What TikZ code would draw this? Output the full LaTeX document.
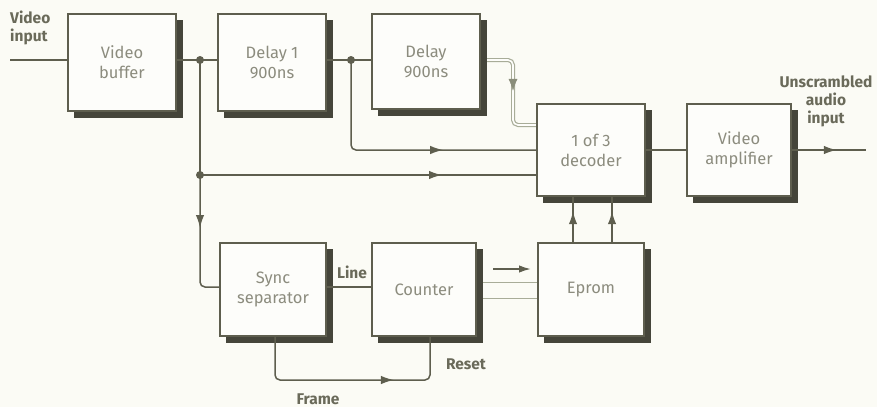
\documentclass[tikz,border=0pt]{standalone}
\usepackage{fontspec}
\setmainfont{Fira Sans}
\usetikzlibrary{arrows.meta,decorations.markings,shadows}
\pgfdeclarelayer{under}
\pgfsetlayers{under,main}
\definecolor{bg}{HTML}{FBFBF5}
\definecolor{boxfill}{HTML}{FDFDFA}
\definecolor{ln}{HTML}{5E5E4E}
\definecolor{shd}{HTML}{45453A}
\definecolor{boxtxt}{HTML}{8C8C7E}
\definecolor{lbl}{HTML}{6A6A5A}
\definecolor{pale}{HTML}{A8AC98}
\tikzset{
  blk/.style={draw=ln, line width=1.6pt, fill=boxfill, inner sep=0pt, align=center,
    text=boxtxt, font=\fontsize{16.5}{20}\selectfont,
    general shadow={shadow xshift=6pt, shadow yshift=-6pt, fill=shd, draw=shd, line width=0.5pt}},
  wire/.style={draw=ln, line width=1.5pt, rounded corners=5pt},
  lbltext/.style={text=lbl, font=\bfseries\fontsize{15.5}{18}\selectfont, inner sep=0pt, align=center},
  arrowat/.style={postaction={decorate}, decoration={markings,
      mark=at position #1 with {\arrow[ln]{Latex[length=13pt,width=8.5pt]}}}},
  dot/.style={circle, fill=ln, inner sep=0pt, minimum size=8pt}
}
\begin{document}
\begin{tikzpicture}[x=1pt,y=-1pt]
\begin{pgfonlayer}{under}
\useasboundingbox[fill=bg] (0,0) rectangle (877,407);
\end{pgfonlayer}

% boxes
\node[blk, minimum width=108pt, minimum height=97pt] (buf) at (122,62.5) {Video\\buffer};
\node[blk, minimum width=108pt, minimum height=97pt] (d1) at (272,62.5) {Delay 1\\900ns};
\node[blk, minimum width=108pt, minimum height=95pt] (d2) at (426,61.5) {Delay\\900ns};
\node[blk, minimum width=108pt, minimum height=92pt] (dec) at (591,150) {1 of 3\\decoder};
\node[blk, minimum width=104pt, minimum height=92pt] (amp) at (739,150) {Video\\amplifier};
\node[blk, minimum width=106pt, minimum height=93pt] (sync) at (273,289.5) {Sync\\separator};
\node[blk, minimum width=104pt, minimum height=93pt] (cnt) at (424,289.5) {Counter};
\node[blk, minimum width=106pt, minimum height=93pt] (ep) at (591,289.5) {Eprom};

% coordinates
\coordinate (in) at (10,60);
\coordinate (j1) at (200,60);
\coordinate (j2) at (351,60);
\coordinate (j3) at (200,175);
\coordinate (out) at (866,150);
\coordinate (d2turn) at (513,60);
\coordinate (d2low) at (513,125);
\coordinate (sy) at (200,287);
\coordinate (j2low) at (351,150);
\coordinate (fr1) at (275,380);
\coordinate (fr2) at (430,380);
\coordinate (cea) at (493,269);
\coordinate (ceb) at (531,269);
\coordinate (bus1) at (500,282);
\coordinate (bus2) at (500,298);
\coordinate (e1) at (573,0);
\coordinate (e2) at (612,0);

% main signal line
\draw[wire] (in) -- (in -| buf.west);
\draw[wire] (j1 -| buf.east) -- (j1 -| d1.west);
\draw[wire] (j2 -| d1.east) -- (j2 -| d2.west);

% branches
\draw[wire] (j1) -- (j3);
\draw[wire, arrowat=53pt] (j3) -- (sy) -- (sy -| sync.west);
\draw[wire, arrowat=242pt] (j3) -- (j3 -| dec.west);
\draw[wire, arrowat=180pt] (j2) -- (j2low) -- (j2low -| dec.west);
\node[dot] (n1) at (j1) {};
\node[dot] (n2) at (j2) {};
\node[dot] (n3) at (j3) {};

% delay output (pale double line)
\begin{pgfonlayer}{under}
\draw[draw=pale, line width=1.2pt, double=boxfill, double distance=1.6pt, rounded corners=5pt]
  (j2 -| d2.east) -- (d2turn) -- (d2low) -- (d2low -| dec.west);
\end{pgfonlayer}
\path[postaction={decorate}, decoration={markings, mark=at position 63pt with {\arrow[pale!60!ln]{Latex[length=12pt,width=9pt]}}}]
  (j2 -| d2.east) -- (d2turn) -- (d2low);

% decoder -> amplifier -> output
\draw[wire] (dec.east) -- (amp.west);
\draw[wire, arrowat=45pt] (amp.east) -- (out);

% sync -> counter
\draw[wire] (sy -| sync.east) -- (sy -| cnt.west);
\node[lbltext] (linelbl) at (352,272) {Line};

% frame reset loop
\draw[wire, arrowat=160pt] (fr1 |- sync.south) -- (fr1) -- (fr2) -- (fr2 |- cnt.south);
\node[lbltext] (framelbl) at (318,399) {Frame};
\node[lbltext] (resetlbl) at (466,364) {Reset};

% counter -> eprom
\draw[draw=ln, line width=1.8pt, -{Latex[length=12pt,width=7.5pt]}] (cea) -- (ceb);
\begin{pgfonlayer}{under}
\draw[draw=pale, line width=1pt] (bus1 -| cnt.east) -- (bus1 -| ep.west);
\draw[draw=pale, line width=1pt] (bus2 -| cnt.east) -- (bus2 -| ep.west);
\end{pgfonlayer}

% eprom -> decoder
\draw[wire, arrowat=31pt] (e1 |- ep.north) -- (e1 |- dec.south);
\draw[wire, arrowat=31pt] (e2 |- ep.north) -- (e2 |- dec.south);

% outside labels
\node[lbltext, align=left, anchor=north west] (vin) at (10,11) {Video\\input};
\node[lbltext] (uns) at (826,101) {Unscrambled\\audio\\input};
\end{tikzpicture}
\end{document}
